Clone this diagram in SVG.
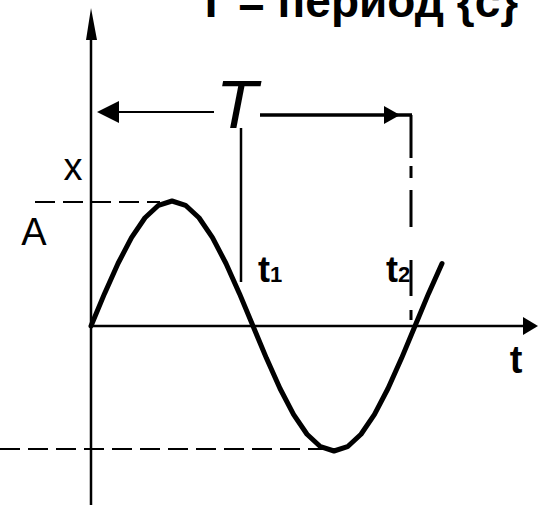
<svg xmlns="http://www.w3.org/2000/svg" width="542" height="505" viewBox="0 0 542 505">
<style>
.ax{stroke:#000;stroke-width:2.5;fill:none}
.dash{stroke:#000;stroke-width:2;fill:none;stroke-dasharray:20 8}
.lbl{font-family:"Liberation Sans",Arial,sans-serif;fill:#000}
.tl{font-weight:bold}
</style>
<rect width="542" height="505" fill="#fff"/>
<g id="title">
<text class="lbl" x="197" y="17" font-size="46" font-weight="bold">Т = период {с}</text>
</g>
<g id="axes">
<line class="ax" x1="91" y1="30" x2="91" y2="505"/>
<polygon points="91,8 86,40 97,40" fill="#000"/>
<line class="ax" x1="91" y1="326" x2="525" y2="326"/>
<polygon points="538,326 523,317 523,335" fill="#000"/>
</g>
<g id="guides">
<line class="dash" x1="35" y1="202" x2="160" y2="202"/>
<line class="dash" x1="0" y1="449" x2="330" y2="449"/>
<line class="ax" x1="241" y1="128" x2="241" y2="282"/>
<line x1="411" y1="115" x2="411" y2="322" stroke="#000" stroke-width="3" stroke-dasharray="43 8 12 12 37 33 36 14 10"/>
</g>
<g id="period">
<line x1="214" y1="112" x2="115" y2="112" stroke="#000" stroke-width="2"/>
<polygon points="97,112 119,101 119,123" fill="#000"/>
<line x1="260" y1="115" x2="412" y2="115" stroke="#000" stroke-width="3.5"/>
<polygon points="400,115 384,106 384,124" fill="#000"/>
<text class="lbl" x="216" y="128" font-size="68" font-style="italic">T</text>
</g>
<g id="curve">
<polyline fill="none" stroke="#000" stroke-width="5" stroke-linejoin="round" stroke-linecap="round" points="91,326 104.5,293.65 118,263.5 131.5,237.6 145,217.75 158.5,205.26 172,201 185.5,205.26 199,217.75 212.5,237.6 226,263.5 239.5,293.65 253,326 266.5,358.35 280,388.5 293.5,414.4 307,434.25 320.5,446.74 334,451 347.5,446.74 361,434.25 374.5,414.4 388,388.5 401.5,358.35 415,326 428.5,293.65 442,263.5"/>
</g>
<g id="labels">
<text class="lbl" x="73" y="180" font-size="38" text-anchor="middle">x</text>
<text class="lbl" x="34" y="245" font-size="38" text-anchor="middle">A</text>
<text class="lbl tl" x="258" y="282" font-size="36">t<tspan font-size="22">1</tspan></text>
<text class="lbl tl" x="386" y="282" font-size="36">t<tspan font-size="22">2</tspan></text>
<text class="lbl tl" x="516" y="373" font-size="38" text-anchor="middle">t</text>
</g>
</svg>
